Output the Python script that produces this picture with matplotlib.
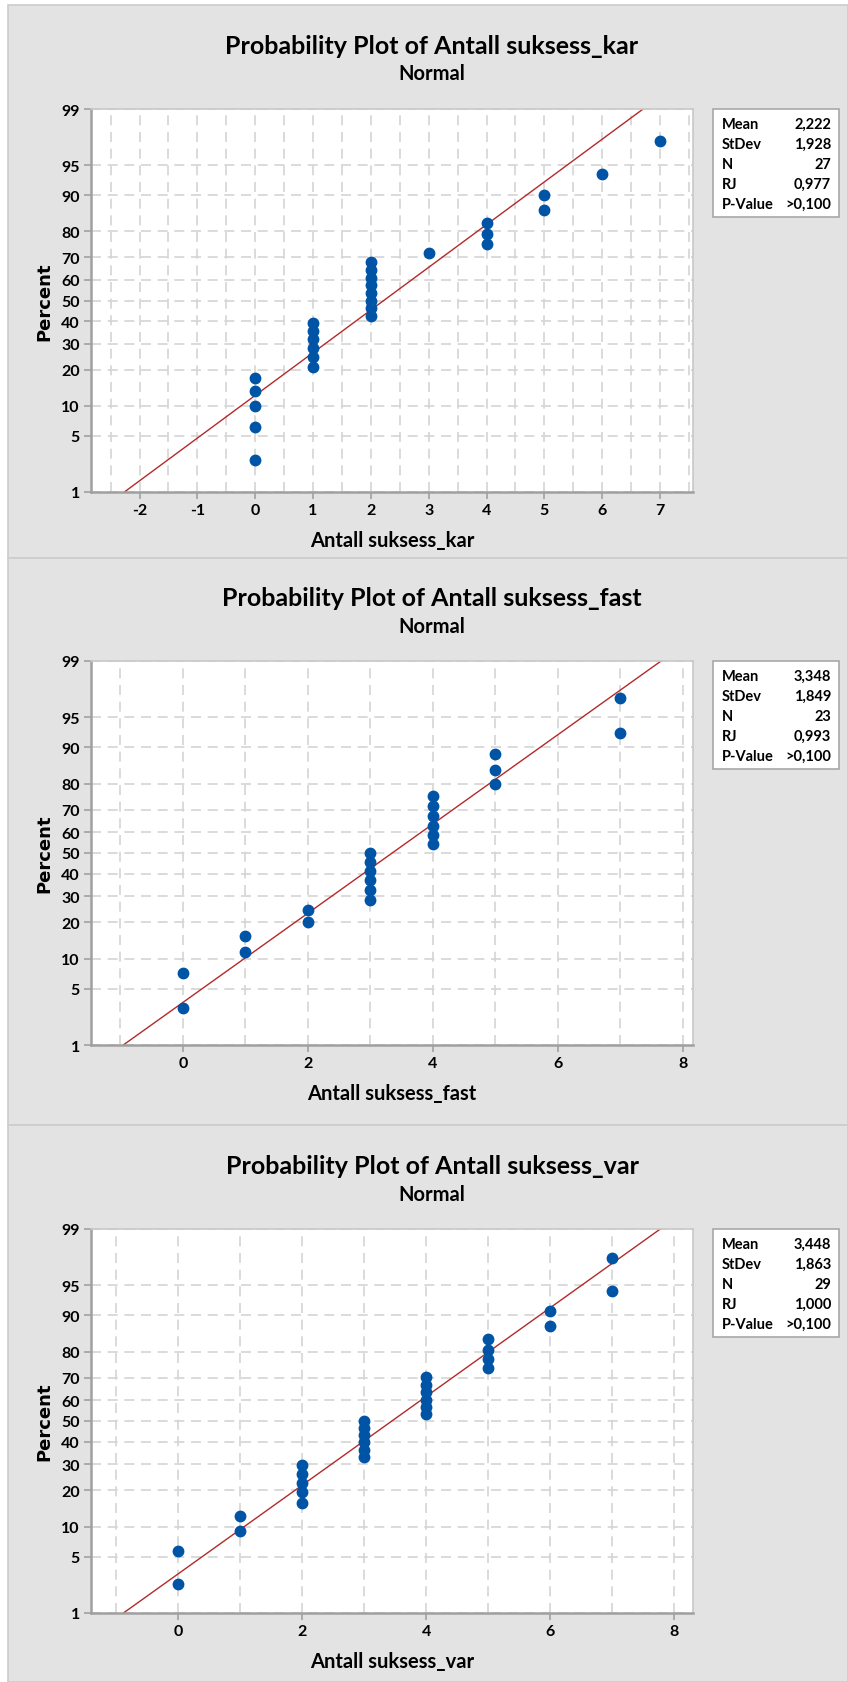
import numpy as np
import matplotlib
matplotlib.use("Agg")
import matplotlib.pyplot as plt
from matplotlib.patches import Rectangle
from matplotlib.ticker import FixedLocator, MultipleLocator, NullLocator
from statistics import NormalDist

# data
kar_x = [0, 0, 0, 0, 0, 1, 1, 1, 1, 1, 1, 2, 2, 2, 2, 2, 2, 2, 2, 3, 4, 4, 4, 5, 5, 6, 7]
kar_pct = [2.6, 6.2, 9.9, 13.5, 17.2, 20.8, 24.5, 28.1, 31.8, 35.4, 39.1, 42.7, 46.4, 50.0,
           53.6, 57.3, 60.9, 64.6, 68.2, 71.9, 75.5, 79.2, 82.8, 86.5, 90.1, 93.8, 97.4]
fast_x = [0, 0, 1, 1, 2, 2, 3, 3, 3, 3, 3, 3, 4, 4, 4, 4, 4, 4, 5, 5, 5, 7, 7]
fast_pct = [3.0, 7.3, 11.5, 15.8, 20.1, 24.4, 28.6, 32.9, 37.2, 41.5, 45.7, 50.0,
            54.3, 58.5, 62.8, 67.1, 71.4, 75.6, 79.9, 84.2, 88.5, 92.7, 97.0]
var_x = [0, 0, 1, 1, 2, 2, 2, 2, 2, 3, 3, 3, 3, 3, 3, 4, 4, 4, 4, 4, 4, 5, 5, 5, 5, 6, 6, 7, 7]
var_pct = [2.4, 5.8, 9.2, 12.6, 16.0, 19.4, 22.8, 26.2, 29.6, 33.0, 36.4, 39.8, 43.2, 46.6,
           50.0, 53.4, 56.8, 60.2, 63.6, 67.0, 70.4, 73.8, 77.2, 80.6, 84.0, 87.4, 90.8,
           94.2, 97.6]

names = ["Antall suksess_kar", "Antall suksess_fast", "Antall suksess_var"]
means = [2.222, 3.348, 3.448]
stdevs = [1.928, 1.849, 1.863]
ns = [27, 23, 29]
rjs = ["0,977", "0,993", "1,000"]
pvals = [">0,100", ">0,100", ">0,100"]
y_ticks = [1, 5, 10, 20, 30, 40, 50, 60, 70, 80, 90, 95, 99]

W, H = 848, 1683
FONT = "Lato"
BG = "#e3e3e3"
BLUE = "#0054a6"
RED = "#b22a2a"
GRID = "#d4d4d4"
SPINE = "#a0a0a0"

plt.rcParams["axes.unicode_minus"] = False

nd = NormalDist()
_inv = np.vectorize(lambda p: nd.inv_cdf(min(max(p / 100.0, 1e-9), 1 - 1e-9)), otypes=[float])
_cdf = np.vectorize(lambda z: 100.0 * nd.cdf(z), otypes=[float])


def fwd(p):
    return _inv(np.asarray(p, dtype=float))


def inv(z):
    return _cdf(np.asarray(z, dtype=float))


def fx(px):
    return px / W


def fy(py):
    return 1 - py / H


fig = plt.figure(figsize=(W / 100, H / 100), dpi=100)
fig.patch.set_facecolor("white")

# panel layout in pixels: (panel top, panel bottom, plot top, plot bottom, title y, xlim, major, minor)
panels = [
    (6, 559, 110, 493, 46, (-2.84, 7.57), 1, 0.5),
    (559, 1126, 662, 1046, 599, (-1.47, 8.16), 2, 1),
    (1126, 1683, 1230, 1614, 1167, (-1.41, 8.31), 2, 1),
]
xs = [kar_x, fast_x, var_x]
ps = [kar_pct, fast_pct, var_pct]

for i, (ptop, pbot, atop, abot, ty, xlim, major, minor) in enumerate(panels):
    fig.add_artist(Rectangle((fx(8), fy(pbot)), fx(W - 8), (pbot - ptop) / H,
                             transform=fig.transFigure, facecolor=BG,
                             edgecolor="#cccccc", lw=1.2, zorder=-5))

    fig.text(fx(432), fy(ty), f"Probability Plot of {names[i]}", ha="center", va="center",
             fontsize=18, fontweight="bold", family=FONT)
    fig.text(fx(432), fy(ty + 28), "Normal", ha="center", va="center",
             fontsize=14.5, fontweight="bold", family=FONT)

    left, right = 91, 693
    ax = fig.add_axes([fx(left), fy(abot), fx(right - left), (abot - atop) / H])
    ax.set_facecolor("white")
    ax.set_yscale("function", functions=(fwd, inv))
    ax.set_ylim(1, 99)
    ax.set_xlim(*xlim)
    ax.yaxis.set_major_locator(FixedLocator(y_ticks))
    ax.yaxis.set_minor_locator(NullLocator())
    ax.set_yticklabels([str(t) for t in y_ticks])
    ax.xaxis.set_major_locator(MultipleLocator(major))
    ax.xaxis.set_minor_locator(MultipleLocator(minor))

    ax.grid(True, which="both", axis="x", color=GRID, ls=(0, (6, 4)), lw=1.2)
    ax.grid(True, which="major", axis="y", color=GRID, ls=(0, (6, 4)), lw=1.2)
    ax.set_axisbelow(True)

    for s in ["top", "right"]:
        ax.spines[s].set_color("#c8c8c8")
        ax.spines[s].set_linewidth(1.2)
    for s in ["left", "bottom"]:
        ax.spines[s].set_color(SPINE)
        ax.spines[s].set_linewidth(1.8)
    ax.tick_params(which="major", direction="out", length=5, width=1.2, color=SPINE,
                   labelsize=11.5, pad=3)
    ax.tick_params(which="minor", length=0)
    for lab in ax.get_xticklabels() + ax.get_yticklabels():
        lab.set_family(FONT)
        lab.set_fontweight("bold")

    # fitted line
    line_x = np.array(xlim)
    ax.plot(line_x, inv((line_x - means[i]) / stdevs[i]), color=RED, lw=1.0, zorder=2)
    ax.plot(xs[i], ps[i], "o", color=BLUE, ms=7.5, mec=BLUE, zorder=3)

    ax.set_ylabel("Percent", fontsize=13, fontweight="bold", family="DejaVu Sans", labelpad=6)
    ax.set_xlabel(names[i], fontsize=14.5, family=FONT, fontweight="bold", labelpad=9)

    # stats box
    bx0, bx1, by0, by1 = 713, 839, atop, atop + 108
    fig.add_artist(Rectangle((fx(bx0), fy(by1)), fx(bx1 - bx0), (by1 - by0) / H,
                             transform=fig.transFigure, facecolor="white",
                             edgecolor="#a8a8a8", lw=1.2, zorder=1))
    rows = [("Mean", f"{means[i]:.3f}".replace(".", ",")),
            ("StDev", f"{stdevs[i]:.3f}".replace(".", ",")),
            ("N", str(ns[i])),
            ("RJ", rjs[i]),
            ("P-Value", pvals[i])]
    for k, (lab, val) in enumerate(rows):
        yy = by0 + 15 + 20 * k
        fig.text(fx(722), fy(yy), lab, ha="left", va="center", fontsize=10.5,
                 family=FONT, fontweight="bold")
        fig.text(fx(831), fy(yy), val, ha="right", va="center", fontsize=10.5,
                 family=FONT, fontweight="bold")

fig.savefig("out.png", dpi=100)
